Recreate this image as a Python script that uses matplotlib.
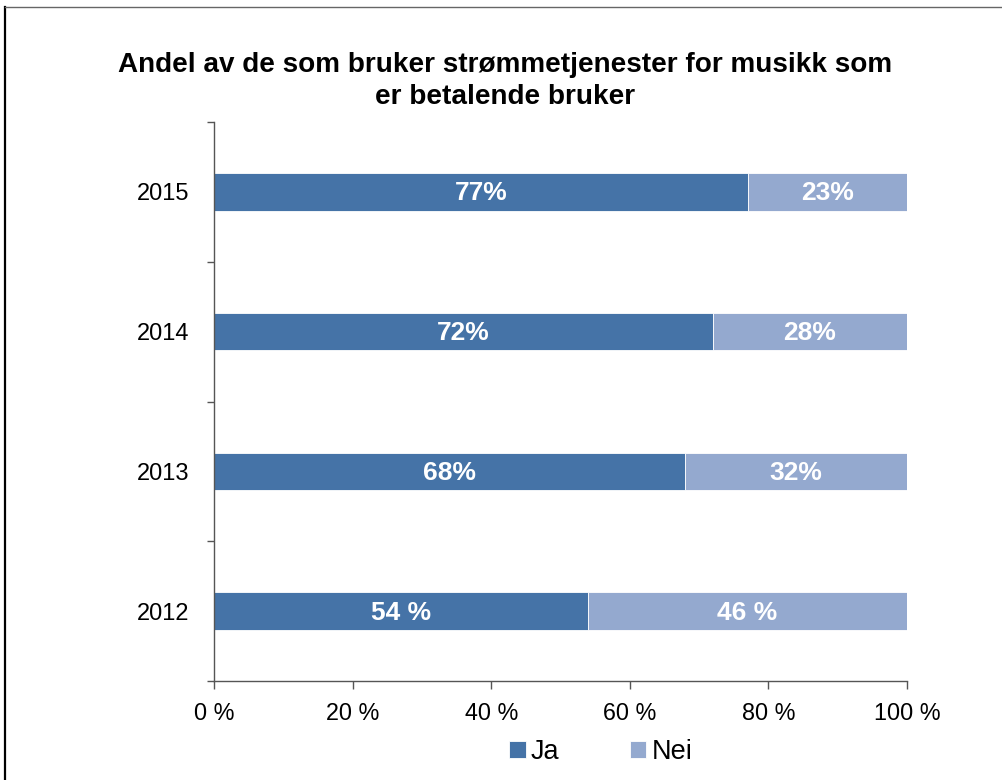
import matplotlib.pyplot as plt
from matplotlib.lines import Line2D
import numpy as np

plt.rcParams['font.family'] = ['Liberation Sans', 'DejaVu Sans']

years = ['2012', '2013', '2014', '2015']
ja = [54, 68, 72, 77]
nei = [46, 32, 28, 23]
ja_labels = ['54 %', '68%', '72%', '77%']
nei_labels = ['46 %', '32%', '28%', '23%']
xticks = [0, 20, 40, 60, 80, 100]
xtick_labels = ['0 %', '20 %', '40 %', '60 %', '80 %', '100 %']

c_ja = '#4573A7'
c_nei = '#94A9CF'

W, H = 1003, 780
fig = plt.figure(figsize=(W / 100, H / 100), dpi=100)
ax = fig.add_axes([214 / W, 1 - 681 / H, (907 - 214) / W, (681 - 122) / H])

y = np.arange(len(years))
b1 = ax.barh(y, ja, height=0.27, color=c_ja, edgecolor='white', linewidth=0.6, label='Ja')
b2 = ax.barh(y, nei, left=ja, height=0.27, color=c_nei, edgecolor='white', linewidth=0.6, label='Nei')

for i in range(len(years)):
    ax.text(ja[i] / 2, y[i] - 0.01, ja_labels[i], ha='center', va='center',
            color='white', fontsize=19, fontweight='bold')
    ax.text(ja[i] + nei[i] / 2, y[i] - 0.01, nei_labels[i], ha='center', va='center',
            color='white', fontsize=19, fontweight='bold')

ax.set_xlim(0, 100)
ax.set_ylim(-0.5, len(years) - 0.5)
ax.set_xticks(xticks)
ax.set_xticklabels(xtick_labels, fontsize=16.8)
ax.set_yticks(y)
ax.set_yticklabels(years, fontsize=17)
ax.set_yticks(np.arange(-0.5, len(years)), minor=True)
ax.tick_params(axis='y', which='major', length=0, pad=18)
ax.tick_params(axis='y', which='minor', length=5, width=1, color='#555555', direction='out')
ax.tick_params(axis='x', length=6, width=1, color='#555555', direction='out', pad=9)

for s in ['top', 'right']:
    ax.spines[s].set_visible(False)
for s in ['left', 'bottom']:
    ax.spines[s].set_color('#555555')
    ax.spines[s].set_linewidth(1)

fig.text(505 / W, 1 - 81 / H, 'Andel av de som bruker strømmetjenester for musikk som\ner betalende bruker',
         ha='center', va='center', fontsize=20.1, fontweight='bold', linespacing=1.25)

fig.legend(handles=[b1, b2], loc='center', bbox_to_anchor=(601 / W, 1 - 752 / H), ncol=2,
           frameon=False, fontsize=19.5, handlelength=0.6, handleheight=0.6,
           handletextpad=0.2, columnspacing=2.6)

# outer frame (left and top edges visible)
fig.add_artist(Line2D([5 / W, 5 / W], [0, 1 - 7 / H], transform=fig.transFigure, color='black', linewidth=1.6))
fig.add_artist(Line2D([5 / W, 1], [1 - 7 / H, 1 - 7 / H], transform=fig.transFigure, color='#666666', linewidth=1))

fig.savefig('out.png', dpi=100)
